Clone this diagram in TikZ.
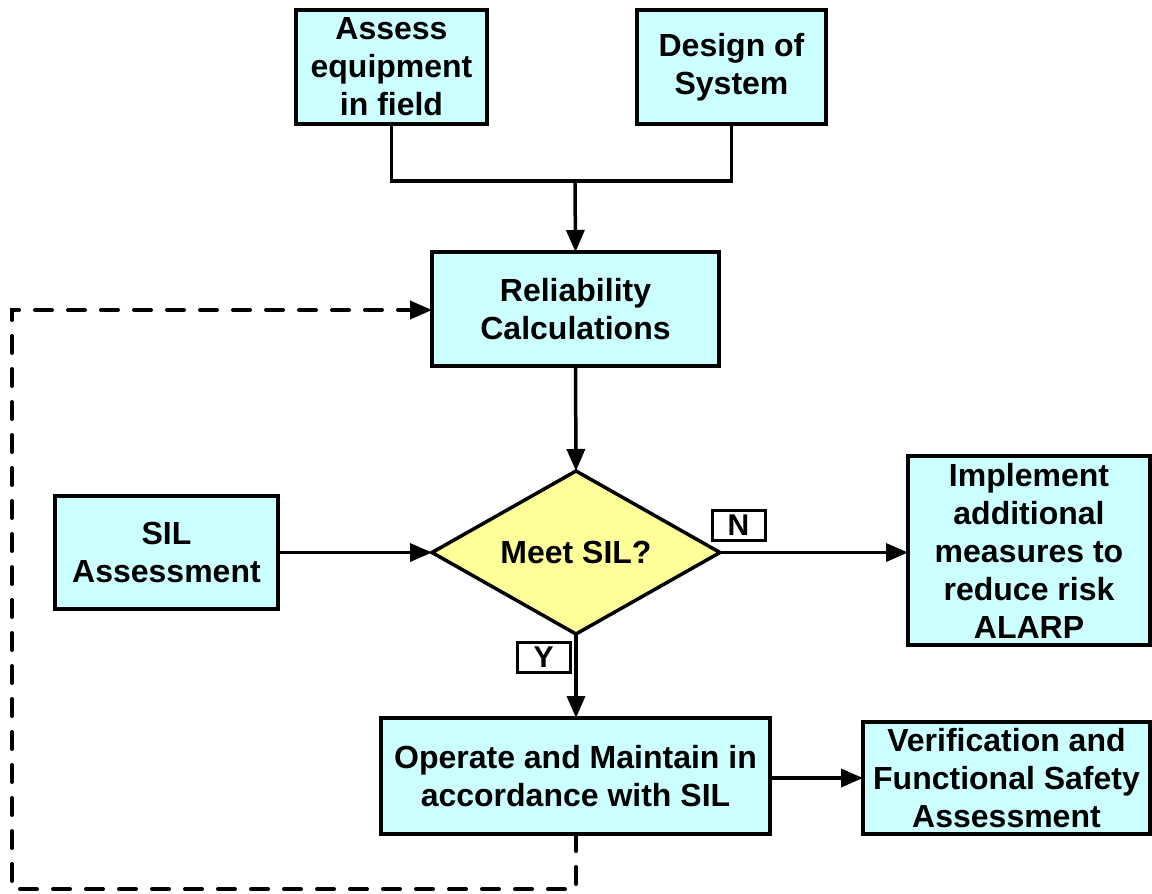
\documentclass[tikz,border=0pt]{standalone}
\usepackage{fontspec}
\setmainfont{Liberation Sans}
\usetikzlibrary{shapes.geometric,arrows.meta}
\definecolor{boxcyan}{HTML}{CCFFFF}
\definecolor{diayellow}{HTML}{FFFF99}
\begin{document}
\begin{tikzpicture}[x=1pt,y=-1pt,
  box/.style={draw=black,line width=3.5pt,fill=boxcyan,inner sep=0pt,outer sep=0pt,align=center,
    font=\fontsize{32}{38}\selectfont\bfseries},
  dia/.style={diamond,aspect=1.77,draw=black,line width=3.5pt,fill=diayellow,inner sep=0pt,outer sep=0pt,
    minimum width=288pt,minimum height=163pt,font=\fontsize{32}{38}\selectfont\bfseries},
  lbl/.style={draw=black,line width=3pt,fill=white,inner sep=0pt,outer sep=0pt,
    minimum width=53pt,minimum height=30pt,font=\fontsize{30}{30}\selectfont\bfseries},
  conn/.style={line width=3.5pt},
  arr/.style={line width=3.5pt,-{Triangle[length=22pt,width=18pt]}},
  dashline/.style={line width=4pt,line cap=round,dash pattern=on 17pt off 16pt,-{Triangle[length=22pt,width=18pt]}}
]
\useasboundingbox (0,0) rectangle (1152,894);
\node[box,minimum width=191pt,minimum height=114pt] (assess) at (391.5,67) {Assess\\equipment\\in field};
\node[box,minimum width=189pt,minimum height=114pt] (design) at (731.5,67) {Design of\\System};
\node[box,minimum width=287pt,minimum height=114pt] (rel) at (575.5,309) {Reliability\\Calculations};
\node[dia] (meet) at (576,552.5) {Meet SIL?};
\node[box,minimum width=223pt,minimum height=113pt] (sil) at (166.5,552.5) {SIL\\Assessment};
\node[box,minimum width=242pt,minimum height=189pt] (impl) at (1029,550.5) {Implement\\additional\\measures to\\reduce risk\\ALARP};
\node[box,minimum width=389pt,minimum height=116pt] (oper) at (575.5,776) {Operate and Maintain in\\accordance with SIL};
\node[box,minimum width=287pt,minimum height=112pt] (verif) at (1006.5,778) {Verification and\\Functional Safety\\Assessment};
\node[lbl] (nlbl) at (738.5,525) {N};
\node[lbl] (ylbl) at (543.5,657) {Y};
\coordinate (j) at (575,181);
\draw[conn] (assess.south) |- (j) -| (design.south);
\draw[arr] (j) -- (rel.north);
\draw[arr] (rel.south) -- (meet.north);
\draw[arr] (sil.east) -- (meet.west);
\draw[arr] (meet.east) -- (impl.west |- meet.east);
\draw[arr] (meet.south) -- (oper.north -| meet.south);
\draw[arr] (oper.east |- verif.west) -- (verif.west);
\coordinate (d1) at (576,889);
\coordinate (d2) at (12,889);
\coordinate (d3) at (12,310);
\draw[dashline] (oper.south -| d1) -- (d1) -- (d2) -- (d3) -- (rel.west |- d3);
\end{tikzpicture}
\end{document}
